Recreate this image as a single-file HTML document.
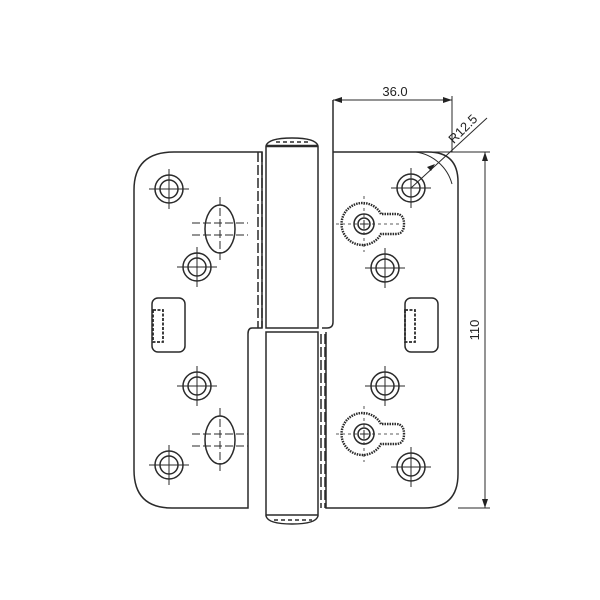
<!DOCTYPE html>
<html><head><style>body{margin:0;background:#fff}svg{display:block}</style></head><body>
<svg width="600" height="600" viewBox="0 0 600 600" xmlns="http://www.w3.org/2000/svg" fill="none" stroke="#2a2a2a" stroke-width="1.5" font-family="Liberation Sans, sans-serif">
<defs>
<g id="h"><circle r="14"/><circle r="9"/><path d="M-20 0H20M0-20V20" stroke-width="1"/></g>
<g id="o"><ellipse rx="15" ry="24"/><path d="M-28 -6H28M-28 6H28M0-32V32" stroke-width="1" stroke-dasharray="8 3"/></g>
<g id="l"><path d="M17 -10 A21 21 0 1 0 17 10 L32 10 Q40 10 40 0 Q40 -10 32 -10 Z" stroke-width="2.4" stroke-dasharray="1.5 1"/><circle r="10"/><circle r="6"/><path d="M-4 0H4M0-4V4" stroke-width="1"/><path d="M-28 0H38M0-28V28" stroke-width="0.8" stroke-dasharray="3 3"/></g>
</defs>
<path d="M174 152H262V328H252Q248 328 248 334V508H172Q134 508 134 470V190Q134 152 174 152Z"/>
<path d="M258 152V328M262 152V328" stroke-dasharray="10 3"/>
<path d="M266 146Q268 138 292 138Q316 138 318 146V328H266Z"/>
<path d="M266 146H318" stroke-width="2.4"/>
<path d="M276 142H310" stroke-dasharray="4 3"/>
<path d="M266 332H318V516Q316 524 292 524Q268 524 266 516Z"/>
<path d="M266 515H318" stroke-width="1.4"/>
<path d="M274 520H312" stroke-dasharray="4 3"/>
<path d="M321 334V508M325 334V508" stroke-dasharray="10 3"/>
<path d="M333 100V322Q333 328 327 328H322M326 332V508H424Q458 508 458 474V182Q458 152 428 152H333"/>
<rect x="152" y="298" width="33" height="54" rx="6"/>
<rect x="153" y="310" width="10" height="32" stroke-width="1.8" stroke-dasharray="3 1.5"/>
<rect x="405" y="298" width="33" height="54" rx="6"/>
<rect x="405" y="310" width="10" height="32" stroke-width="1.8" stroke-dasharray="3 1.5"/>
<use href="#h" x="169" y="189"/><use href="#h" x="197" y="267"/><use href="#h" x="197" y="386"/><use href="#h" x="169" y="465"/>
<use href="#h" x="411" y="188"/><use href="#h" x="385" y="268"/><use href="#h" x="385" y="386"/><use href="#h" x="411" y="467"/>
<use href="#o" x="220" y="229"/><use href="#o" x="220" y="440"/>
<use href="#l" x="364" y="224"/><use href="#l" x="364" y="434"/>
<g stroke-width="1">
<path d="M333 100H452M452 96V152M333 152H490M458 508H490M485 152V508"/>
<path d="M411 188L487 118"/>
<path d="M416 152A44 44 0 0 1 452 184"/>
</g>
<g fill="#222" stroke="none">
<path d="M333 100l9-3v6zM452 100l-9-3v6zM485 152l-3 9h6zM485 508l-3-9h6zM435 164l-8 3 4 4z"/>
<text x="395" y="96" font-size="13" text-anchor="middle">36.0</text>
<text transform="translate(466 132) rotate(-45)" font-size="13" text-anchor="middle">R12.5</text>
<text transform="translate(479 330) rotate(-90)" font-size="13" text-anchor="middle">110</text>
</g>
</svg>
</body></html>
